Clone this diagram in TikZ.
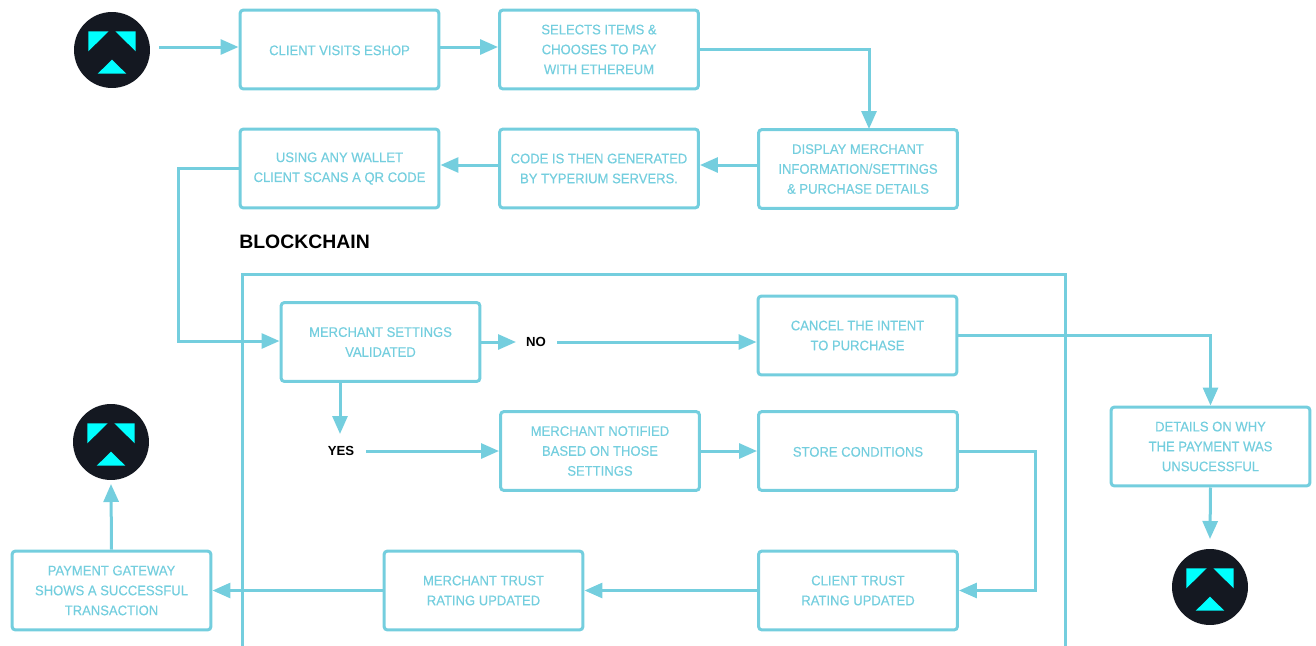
\documentclass[tikz,border=0pt]{standalone}
\usepackage{fontspec}
\setmainfont{Liberation Sans}
\newfontfamily\flowfont[FakeStretch=0.94, FakeBold=0.4]{Liberation Sans}
\usetikzlibrary{arrows.meta}
\definecolor{flowline}{HTML}{74CEDE}
\definecolor{logodark}{HTML}{141821}
\definecolor{logocyan}{HTML}{00FFFF}
\tikzset{
    flowbox/.style={draw=flowline, line width=0.06cm, rounded corners=2pt, text=flowline,
        minimum width=3.98cm, minimum height=1.58cm, align=center, inner sep=0pt,
        font=\flowfont\fontsize{7.9}{11.34}\selectfont},
    textdown/.style={execute at begin node=\rule{0pt}{#1}},
    flowarrow/.style={draw=flowline, line width=0.06cm,
        -{Triangle[length=0.36cm, width=0.3cm]}},
    flowline/.style={draw=flowline, line width=0.06cm},
    answer/.style={text=black, font=\fontsize{7.5}{9}\selectfont\bfseries, inner sep=0pt},
    logodisc/.style={circle, fill=logodark, minimum size=1.52cm, inner sep=0pt},
    logo/.pic={
        \fill[logocyan] (-23.7, -18.7) -- (-3.3, -18.7) -- (-23.7, 1.3) -- cycle;
        \fill[logocyan] (3.3, -18.7) -- (23.7, -18.7) -- (23.7, 1.3) -- cycle;
        \fill[logocyan] (-14.3, 23.7) -- (14.3, 23.7) -- (0, 9.7) -- cycle;
    }
}
\begin{document}
\begin{tikzpicture}[x=0.02cm, y=-0.02cm]
    \useasboundingbox (0, 0) rectangle (1316, 646);
    % logos
    \node[logodisc] (startlogo) at (112, 50) {};
    \pic at (112, 50) {logo};
    \node[logodisc] (donelogo) at (111, 442) {};
    \pic at (111, 442) {logo};
    \node[logodisc] (faillogo) at (1210, 587) {};
    \pic at (1210, 587) {logo};
    % top rows
    \node[flowbox, textdown=6.5pt] (eshop) at (339.5, 49.5) {CLIENT VISITS ESHOP};
    \node[flowbox, textdown=6.6pt] (selects) at (599, 49.5) {SELECTS ITEMS \&\\CHOOSES TO PAY\\WITH ETHEREUM};
    \node[flowbox, textdown=7.6pt] (display) at (858, 169) {DISPLAY MERCHANT\\INFORMATION/SETTINGS\\\& PURCHASE DETAILS};
    \node[flowbox, textdown=8pt] (code) at (599, 168.5) {CODE IS THEN GENERATED\\BY TYPERIUM SERVERS.};
    \node[flowbox, textdown=8pt] (wallet) at (339.5, 168.5) {USING ANY WALLET\\CLIENT SCANS A QR CODE};
    % blockchain
    \node[anchor=west, inner sep=0pt, font=\fontsize{11.05}{13}\selectfont\bfseries] (blockchain) at (239, 242) {BLOCKCHAIN};
    \draw[flowline] (242, 650) -- (242, 274) -- (1065, 274) -- (1065, 650);
    \node[flowbox, textdown=6.6pt] (settings) at (380.5, 342) {MERCHANT SETTINGS\\VALIDATED};
    \node[flowbox] (cancel) at (857.5, 335.5) {CANCEL THE INTENT\\TO PURCHASE};
    \node[flowbox] (details) at (1210.5, 446.5) {DETAILS ON WHY\\THE PAYMENT WAS\\UNSUCESSFUL};
    \node[flowbox] (notified) at (600, 451) {MERCHANT NOTIFIED\\BASED ON THOSE\\SETTINGS};
    \node[flowbox, textdown=6.5pt] (store) at (858, 451) {STORE CONDITIONS};
    \node[flowbox] (clienttrust) at (858, 590.5) {CLIENT TRUST\\RATING UPDATED};
    \node[flowbox] (merchanttrust) at (483.5, 590.5) {MERCHANT TRUST\\RATING UPDATED};
    \node[flowbox] (gateway) at (111.5, 590.5) {PAYMENT GATEWAY\\SHOWS A SUCCESSFUL\\TRANSACTION};
    \node[answer] (no) at (536, 342) {NO};
    \node[answer] (yes) at (341, 451) {YES};
    % free ends
    \coordinate (startend) at (159, 47);
    \coordinate (noend) at (516, 342);
    \coordinate (nostart) at (557, 342);
    \coordinate (yesend) at (340, 434);
    \coordinate (yesstart) at (366, 451);
    \coordinate (donetip) at (111, 484);
    \coordinate (failtip) at (1210, 539);
    % connectors
    \draw[flowarrow] (startend) -- (eshop.west |- startend);
    \draw[flowarrow] (eshop.east |- startend) -- (selects.west |- startend);
    \draw[flowarrow] (selects.east) -- (869, 49.5) -- (869, 129);
    \draw[flowarrow] (display.west |- 0, 165) -- (code.east |- 0, 165);
    \draw[flowarrow] (code.west |- 0, 165) -- (wallet.east |- 0, 165);
    \draw[flowarrow] (wallet.west) -- (178, 168.5) -- (178, 341) -- (settings.west |- 0, 341);
    \draw[flowarrow] (settings.east) -- (noend);
    \draw[flowarrow] (nostart) -- (cancel.west |- nostart);
    \draw[flowarrow] (settings.south -| yesend) -- (yesend);
    \draw[flowarrow] (yesstart) -- (notified.west);
    \draw[flowarrow] (notified.east) -- (store.west);
    \draw[flowarrow] (store.east) -- (1035, 451) -- (1035, 590.5) -- (clienttrust.east);
    \draw[flowarrow] (clienttrust.west) -- (merchanttrust.east);
    \draw[flowarrow] (merchanttrust.west) -- (gateway.east);
    \draw[flowarrow] (gateway.north) -- (donetip);
    \draw[flowarrow] (cancel.east) -- (1210.5, 335.5) -- (details.north);
    \draw[flowarrow] (details.south) -- (failtip);
\end{tikzpicture}
\end{document}
